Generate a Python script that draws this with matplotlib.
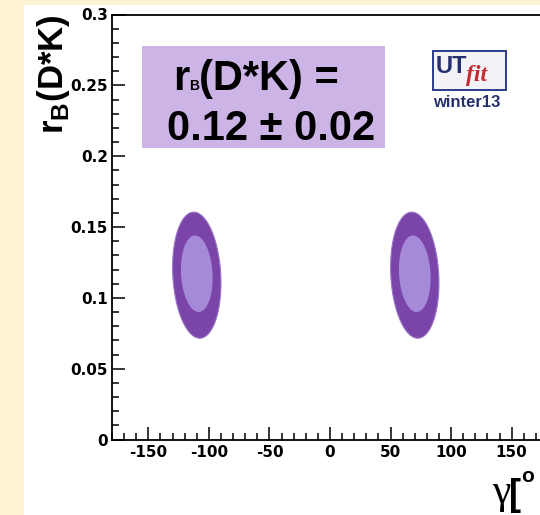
import numpy as np
import matplotlib
matplotlib.use("Agg")
import matplotlib.pyplot as plt
from matplotlib.patches import Rectangle
from matplotlib.ticker import MultipleLocator

plt.rcParams['font.family'] = ['Liberation Sans', 'DejaVu Sans']
plt.rcParams['font.weight'] = 'bold'
plt.rcParams['mathtext.fontset'] = 'custom'
plt.rcParams['mathtext.bf'] = 'Liberation Sans:bold'
plt.rcParams['mathtext.rm'] = 'Liberation Sans:bold'

# Regioni permesse (68% e 95%) per gamma e r_B(D*K)
gamma_c = [-110, 70]          # centri in gamma [gradi]
rb_c68 = [0.117, 0.117]       # centro r_B regione interna
rb_c95 = [0.116, 0.116]       # centro r_B regione esterna
gamma_w68 = [13.0, 13.0]      # semiassi in gamma
gamma_w95 = [19.8, 19.8]
rb_w68 = [0.027, 0.027]       # semiassi in r_B
rb_w95 = [0.0445, 0.0445]
tilt = -56.0                  # leggera inclinazione delle regioni

x_ticks = [-150, -100, -50, 0, 50, 100, 150]
y_ticks = [0, 0.05, 0.1, 0.15, 0.2, 0.25, 0.3]
y_ticklabels = ['0', '0.05', '0.1', '0.15', '0.2', '0.25', '0.3']

col95 = '#7a44a8'
col68 = '#a58ad8'

fig = plt.figure(figsize=(5.4, 5.15), dpi=100)
fig.patch.set_facecolor('#fdf2d4')
fig.patches.append(Rectangle((24 / 540, 0), 1, (515 - 5) / 515,
                             transform=fig.transFigure, facecolor='white',
                             edgecolor='none', zorder=-5))

ax = fig.add_axes([112 / 540, (515 - 439.5) / 515, 436 / 540, 425 / 515])
ax.set_zorder(2)
ax.set_xlim(-180, 180)
ax.set_ylim(0, 0.3)

t = np.linspace(0, 2 * np.pi, 300)
for i in range(len(gamma_c)):
    yy = rb_c95[i] + rb_w95[i] * np.sin(t)
    xx = gamma_c[i] + gamma_w95[i] * np.cos(t) + tilt * (yy - rb_c95[i])
    ax.fill(xx, yy, color=col95, lw=0.8, ec='#9a78c8', zorder=2)
    yy = rb_c68[i] + rb_w68[i] * np.sin(t)
    xx = gamma_c[i] + gamma_w68[i] * np.cos(t) + tilt * (yy - rb_c68[i])
    ax.fill(xx, yy, color=col68, lw=0, zorder=3)

# assi in stile ROOT
for s in ax.spines.values():
    s.set_linewidth(1.3)
ax.set_xticks(x_ticks)
ax.set_xticklabels([str(v) for v in x_ticks])
ax.set_yticks(y_ticks)
ax.set_yticklabels(y_ticklabels)
ax.xaxis.set_minor_locator(MultipleLocator(10))
ax.yaxis.set_minor_locator(MultipleLocator(0.01))
ax.tick_params(which='both', direction='in', top=False, right=False,
               width=1.1, labelsize=11, labelfontfamily='DejaVu Sans')
ax.tick_params(which='major', length=9.5)
ax.tick_params(which='minor', length=5)
ax.tick_params(axis='y', pad=3)
ax.tick_params(axis='x', pad=4)

# riquadro con il risultato
ax.add_patch(Rectangle((-155, 0.206), 200, 0.072, facecolor='#cdb4e6',
                       edgecolor='none', zorder=4))
fig.canvas.draw()
r1 = ax.text(-129.5, 0.2467, 'r', fontsize=30, fontweight='bold',
             ha='left', va='baseline', zorder=5)
fig.canvas.draw()
bb = r1.get_window_extent()
inv = ax.transData.inverted()
xb = inv.transform((bb.x1, 0))[0]
b1 = ax.text(xb, 0.2467, 'B', fontsize=10, fontweight='bold',
             ha='left', va='baseline', zorder=5)
fig.canvas.draw()
bb = b1.get_window_extent()
xb = inv.transform((bb.x1, 0))[0]
ax.text(xb, 0.2467, '(D*K) =', fontsize=30, fontweight='bold',
        ha='left', va='baseline', zorder=5)
ax.text(-134.5, 0.2114, '0.12 \u00b1 0.02', fontsize=30, fontweight='bold',
        ha='left', va='baseline', zorder=5)

# logo UTfit
ax.add_patch(Rectangle((85, 0.2464), 60, 0.0276, facecolor='#f3f3f7',
                       edgecolor='#2b3a8c', lw=1.4, zorder=4))
ax.text(87.5, 0.2585, 'UT', fontsize=17, fontweight='bold', color='#26306f',
        ha='left', va='baseline', zorder=5)
ax.text(112, 0.2530, 'fit', fontsize=17, fontstyle='italic',
        fontweight='bold', family='Liberation Serif', color='#c62a30',
        ha='left', va='baseline', zorder=5)
ax.text(113, 0.2345, 'winter13', fontsize=12, fontweight='bold',
        color='#26306f', ha='center', va='baseline', zorder=5)

# etichette degli assi
fig.text(54 / 540, 1 - 74 / 515, r'$\mathbf{r}_{\mathbf{B}}$(D*K)',
         rotation=90, fontsize=25, fontweight='bold', ha='center',
         va='center')
fig.text(492 / 540, 1 - 503 / 515, '\u03b3', fontsize=30,
         family='Liberation Serif', fontweight='normal', ha='left',
         va='baseline')
fig.text(509 / 540, 1 - 505 / 515, '[', fontsize=26, fontweight='bold',
         ha='left', va='baseline')
fig.text(521 / 540, 1 - 482 / 515, 'o', fontsize=15, fontweight='bold',
         ha='left', va='baseline')

fig.savefig('out.png', dpi=100, facecolor=fig.get_facecolor())
